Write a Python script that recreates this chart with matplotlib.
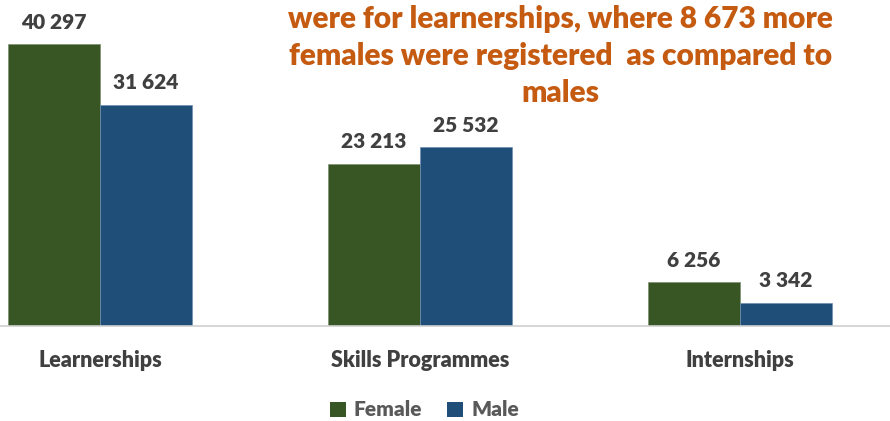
import matplotlib
matplotlib.use("Agg")
import matplotlib.pyplot as plt
import numpy as np
from matplotlib.patches import Patch

categories = ["Learnerships", "Skills Programmes", "Internships"]
female = [40297, 23213, 6256]
male = [31624, 25532, 3342]
series_names = ["Female", "Male"]
headline = ("were for learnerships, where 8 673 more\n"
            "females were registered  as compared to\n"
            "males")

GREEN = "#375623"
BLUE = "#1F4E79"
ORANGE = "#C55A11"
LABEL = "#404040"
LEGEND_TXT = "#595959"

plt.rcParams["font.family"] = ["Lato", "DejaVu Sans"]
WEIGHT = "heavy"

fig = plt.figure(figsize=(8.9, 4.21), dpi=100)
ax = fig.add_axes([0.0, 1 - 326 / 421, 1.0, 326 / 421])

x = np.arange(len(categories))
w = 0.2875
bf = ax.bar(x - w / 2, female, w, color=GREEN, edgecolor="#7f8f70", linewidth=0.5)
bm = ax.bar(x + w / 2, male, w, color=BLUE, edgecolor="#6f8fb0", linewidth=0.5)

def fmt(v):
    return f"{v:,}".replace(",", " ")

for bars, vals in ((bf, female), (bm, male)):
    for b, v in zip(bars, vals):
        ax.annotate(fmt(v), (b.get_x() + b.get_width() / 2, v),
                    xytext=(0, 9), textcoords="offset points",
                    ha="center", va="bottom", fontsize=15,
                    fontweight=WEIGHT, color=LABEL)

ax.set_xlim(-0.3125, 2.469)
ax.set_ylim(0, 46585)
ax.set_yticks([])
ax.set_xticks(x)
ax.set_xticklabels(categories, fontsize=15.5, fontweight=WEIGHT, color=LABEL)
ax.tick_params(axis="x", length=0, pad=17)
for s in ("top", "left", "right"):
    ax.spines[s].set_visible(False)
ax.spines["bottom"].set_color("#d0d0d0")
ax.spines["bottom"].set_linewidth(1.2)

fig.text(0.63, 1 - 56 / 421, headline, ha="center", va="center",
         multialignment="center", fontsize=21.5, fontweight=WEIGHT,
         color=ORANGE, linespacing=1.38)

handles = [Patch(facecolor=GREEN), Patch(facecolor=BLUE)]
leg = fig.legend(handles, series_names, loc="center",
                 bbox_to_anchor=(0.477, 1 - 410 / 421), ncol=2, frameon=False,
                 prop={"size": 15, "weight": WEIGHT},
                 handlelength=0.75, handleheight=0.75, handletextpad=0.4,
                 columnspacing=1.2)
for t in leg.get_texts():
    t.set_color(LEGEND_TXT)

fig.savefig("out.png", dpi=100)
